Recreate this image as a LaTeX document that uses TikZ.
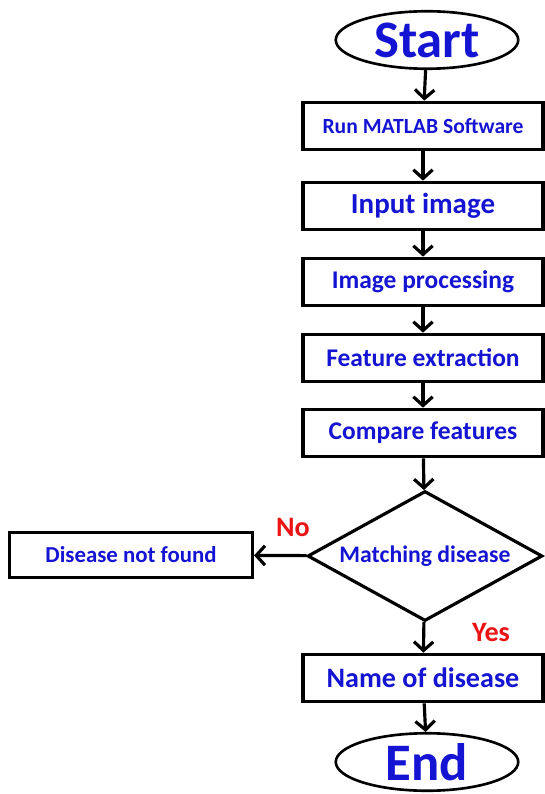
\documentclass[tikz,border=0pt]{standalone}
\usepackage{fontspec}
\setmainfont{Carlito}
\usepackage{xcolor}
\usepackage{tikz}
\usetikzlibrary{shapes,arrows,positioning,calc,arrows.meta}
\definecolor{txtblue}{RGB}{20,20,210}
\definecolor{lblred}{RGB}{235,20,20}

\begin{document}
\begin{tikzpicture}[x=0.02cm,y=-0.02cm,
    box/.style={draw,line width=1.8pt,minimum width=4.8cm,minimum height=0.95cm,
        font=\bfseries\fontsize{14.5}{16}\selectfont,text=txtblue},
    term/.style={draw,ellipse,line width=1.5pt,minimum width=3.65cm,minimum height=1.15cm,
        inner sep=0pt,font=\bfseries\fontsize{30}{32}\selectfont,text=txtblue},
    flow/.style={line width=1.8pt,-{Straight Barb[length=5pt,width=11pt,line width=1.8pt]}},
    lbl/.style={font=\bfseries\fontsize{16}{18}\selectfont,text=lblred}]
    \useasboundingbox (0,0) rectangle (544,794);

    % Start and end
    \node[term] (start) at (427,40) {Start};
    \node[term] (end) at (427,762) {End};

    % Steps
    \node[box,font=\bfseries\fontsize{12.3}{14}\selectfont] (run) at (423,126) {Run MATLAB Software};
    \node[box,font=\bfseries\fontsize{16.5}{18}\selectfont] (input) at (423,206) {Input image};
    \node[box] (proc) at (423,282) {Image processing};
    \node[box] (feat) at (423,358) {Feature extraction};
    \node[box] (comp) at (423,433) {Compare features};

    % Decision
    \node[draw,diamond,aspect=1.8,line width=1.8pt,minimum width=4.7cm,minimum height=2.6cm,inner sep=0pt,
        font=\bfseries\fontsize{13.5}{15}\selectfont,text=txtblue] (match) at (425,556) {Matching disease};
    \node[box,minimum width=4.86cm,minimum height=0.9cm,font=\bfseries\fontsize{13}{15}\selectfont] (notfound) at (131,555) {Disease not found};
    \node[box,font=\bfseries\fontsize{16}{18}\selectfont] (name) at (423,678) {Name of disease};

    % Arrows
    \draw[flow] (start) -- (run);
    \draw[flow] (run) -- (input);
    \draw[flow] (input) -- (proc);
    \draw[flow] (proc) -- (feat);
    \draw[flow] (feat) -- (comp);
    \draw[flow] (comp) -- (match);
    \draw[flow] (match) -- (notfound);
    \draw[flow] (match) -- (name);
    \draw[flow] (name) -- (end);

    % Labels
    \node[lbl] (no) at (293,527) {No};
    \node[lbl] (yes) at (491,632) {Yes};
\end{tikzpicture}
\end{document}
